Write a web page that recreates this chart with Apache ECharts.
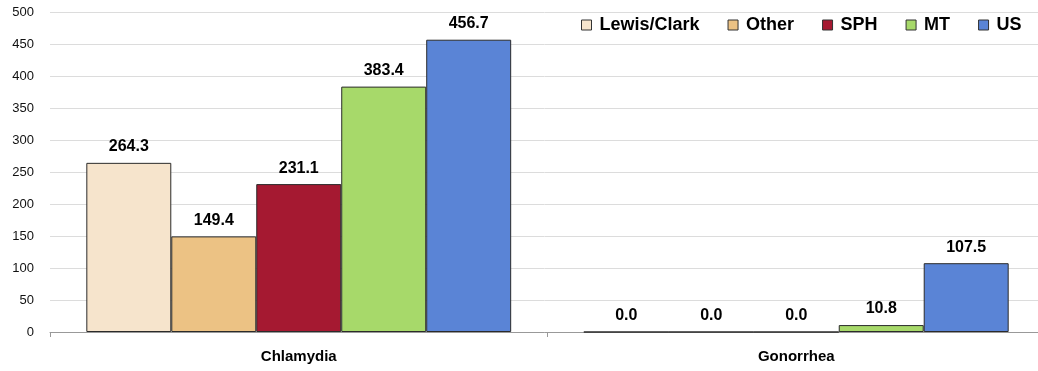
<!DOCTYPE html>
<html>
<head>
<meta charset="utf-8">
<script src="https://cdn.jsdelivr.net/npm/echarts@6/dist/echarts.min.js"></script>
<style>
  html, body { margin: 0; padding: 0; background: #fff; }
  #chart { width: 1038px; height: 371px; }
</style>
</head>
<body>
<div id="chart"></div>
<script>
// data
const categories = ['Chlamydia', 'Gonorrhea'];
const seriesNames = ['Lewis/Clark', 'Other', 'SPH', 'MT', 'US'];
const lewisClark = [264.3, 0.0];
const other = [149.4, 0.0];
const sph = [231.1, 0.0];
const mt = [383.4, 10.8];
const us = [456.7, 107.5];
const colors = ['#F6E4CC', '#ECC284', '#A51931', '#A7D96A', '#5A84D6'];

const values = [lewisClark, other, sph, mt, us];

const font = '"Liberation Sans", Arial, sans-serif';

const chartDom = document.getElementById('chart');
const myChart = echarts.init(chartDom);

const series = seriesNames.map((name, i) => ({
    name: name,
    type: 'bar',
    data: values[i],
    barGap: '0%',
    barCategoryGap: '14.6%',
    itemStyle: {
        color: colors[i],
        borderColor: '#2b2b2b',
        borderWidth: 1
    },
    label: {
        show: true,
        position: 'top',
        distance: 8,
        formatter: p => p.value.toFixed(1),
        color: '#000',
        fontWeight: 'bold',
        fontSize: 16,
        fontFamily: font
    }
}));

const option = {
    animation: false,
    textStyle: {fontFamily: font},
    legend: {
        data: seriesNames,
        top: 16,
        left: 581,
        width: 457,
        padding: 0,
        itemWidth: 10,
        itemHeight: 10,
        itemGap: 28,
        icon: 'rect',
        itemStyle: {borderColor: '#333', borderWidth: 1},
        textStyle: {
            fontSize: 18,
            fontWeight: 'bold',
            fontFamily: font,
            color: '#000',
            padding: [0, 0, 0, 3]
        }
    },
    grid: {
        left: 50,
        width: 995,
        top: 12,
        height: 320,
        outerBoundsMode: 'none',
        containLabel: false
    },
    xAxis: {
        type: 'category',
        data: categories,
        axisLine: {lineStyle: {color: '#999', width: 1}},
        axisTick: {show: true, length: 5, lineStyle: {color: '#999'}},
        axisLabel: {
            color: '#000',
            fontWeight: 'bold',
            fontSize: 15,
            fontFamily: font,
            margin: 17
        }
    },
    yAxis: {
        type: 'value',
        min: 0,
        max: 500,
        interval: 50,
        axisLine: {show: false},
        axisTick: {show: false},
        splitLine: {lineStyle: {color: '#dcdcdc', width: 1}},
        axisLabel: {
            color: '#111',
            fontSize: 13,
            fontFamily: font,
            margin: 16
        }
    },
    series: series
};

option && myChart.setOption(option);
</script>
</body>
</html>
